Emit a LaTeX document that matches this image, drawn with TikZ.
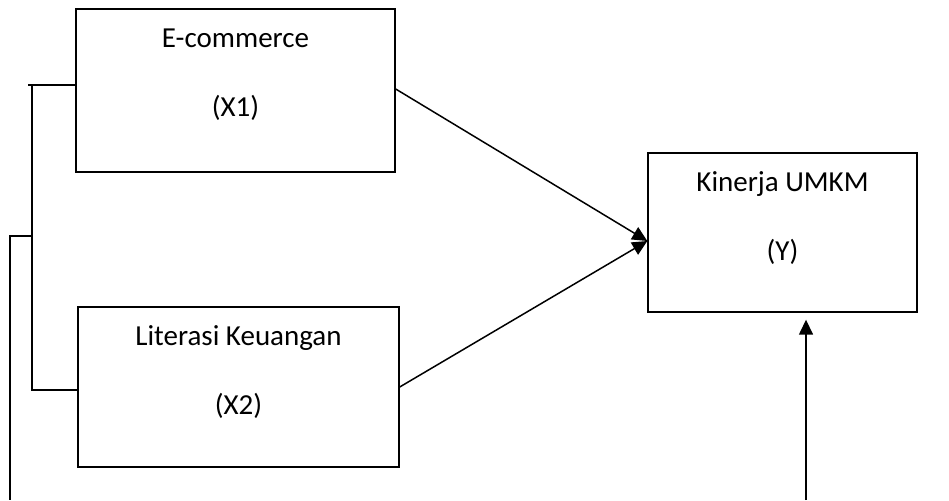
\documentclass[tikz,border=0pt]{standalone}
\usepackage{fontspec}
\setmainfont{Carlito}
\usetikzlibrary{arrows.meta,calc}
\tikzset{
  box/.style={draw=black, line width=1.4pt, rectangle, inner sep=0pt},
  lbl/.style={anchor=base, inner sep=0pt, font=\fontsize{29}{35}\selectfont},
  conn/.style={draw=black, line width=1.5pt},
  arr/.style={conn, -{Triangle[length=15pt,width=14pt]}},
}
\begin{document}
\begin{tikzpicture}[x=1pt,y=-1pt]
\useasboundingbox (0,0) rectangle (949,500);
% boxes
\node[box, minimum width=319pt, minimum height=163pt] (x1) at (235.5,90.5) {};
\node[box, minimum width=321pt, minimum height=160pt] (x2) at (238.5,387) {};
\node[box, minimum width=269pt, minimum height=159pt] (y) at (782.5,232.5) {};
% texts
\node[lbl] (x1a) at ($(x1.north)+(0,39)$) {E-commerce};
\node[lbl] (x1b) at ($(x1.north)+(0,108)$) {(X1)};
\node[lbl] (x2a) at ($(x2.north)+(0,39)$) {Literasi Keuangan};
\node[lbl] (x2b) at ($(x2.north)+(0,108)$) {(X2)};
\node[lbl] (ya) at ($(y.north)+(0,39)$) {Kinerja UMKM};
\node[lbl] (yb) at ($(y.north)+(0,108)$) {(Y)};
% coordinates for the left bracket
\coordinate (t0) at (28,85);
\coordinate (t1) at (32,85);
\coordinate (b1) at (32,390);
\coordinate (m0) at (9,236);
\coordinate (m1) at (32,236);
\coordinate (o1) at (10,500);
\coordinate (bot) at (806,500);
\coordinate (tip) at ($(y.west)+(0,8.5)$);
% bracket
\draw[conn] (t0) -- (t0 -| x1.west);
\draw[conn] (t1) -- (b1) -- (b1 -| x2.west);
\draw[conn] (m0) -- (m1);
\draw[conn] ($(m0)+(1,0)$) -- (o1);
% arrows
\draw[arr] (x1.east) ++(0,-1.5) -- (tip);
\draw[arr] (x2.east) -- (tip);
\draw[arr] (bot) -- ($(bot |- y.south)+(0,7)$);
\end{tikzpicture}
\end{document}
